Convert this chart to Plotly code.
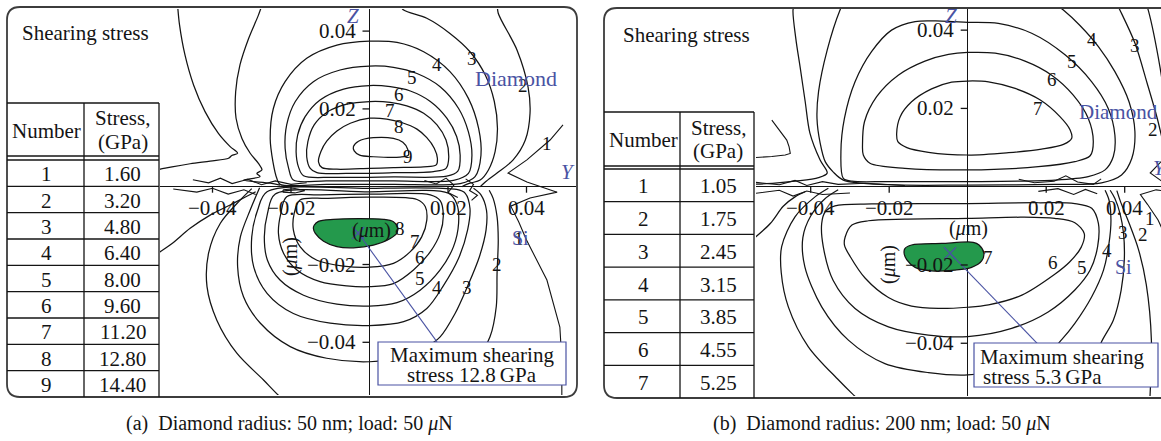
import plotly.graph_objects as go

W, H = 1161, 441
SERIF = "Liberation Serif"
INK = "#141414"
FRAME = "#3c3c3c"
BLUE = "#4a53a3"
GREEN = "#24994c"

# ---------------- values ----------------
A_LEVEL_NO = [1, 2, 3, 4, 5, 6, 7, 8, 9]
A_LEVEL_GPA = [1.60, 3.20, 4.80, 6.40, 8.00, 9.60, 11.20, 12.80, 14.40]
B_LEVEL_NO = [1, 2, 3, 4, 5, 6, 7]
B_LEVEL_GPA = [1.05, 1.75, 2.45, 3.15, 3.85, 4.55, 5.25]
A_MAX_GPA = 12.8
B_MAX_GPA = 5.3
AXIS_TICKS = [-0.04, -0.02, 0.02, 0.04]  # um

# Iso-stress lines, points (y, z) in nm.  Panel (a): radius 50 nm.
a_up_9 = [(-4.1, 10.3), (-2.8, 11.7), (1.0, 12.6), (6.1, 12.4), (8.5, 11.4), (9.7, 9.7), (9.9, 8.1),
          (7.8, 7.6), (1.0, 7.7), (-2.5, 8.1), (-3.9, 9.2)]
a_up_8 = [(0.0, 17.6), (4.4, 17.4), (8.2, 16.5), (12.1, 14.8), (14.6, 12.6), (16.5, 9.9), (17.3, 7.3),
          (17.0, 5.6), (13.8, 5.1), (6.1, 4.9), (0.0, 4.7), (-8.3, 4.5), (-12.1, 4.9), (-13.0, 6.4),
          (-12.4, 9.0), (-10.9, 11.7), (-8.3, 14.3), (-4.9, 16.3)]
a_up_7 = [(0.0, 21.9), (-5.8, 21.2), (-10.9, 19.1), (-14.1, 15.9), (-15.7, 11.6), (-16.0, 7.7), (-15.1, 4.7),
          (-13.4, 3.6), (-5.8, 3.4), (6.1, 3.6), (16.3, 3.9), (19.5, 4.7), (20.2, 7.7), (19.5, 12.0),
          (17.2, 15.9), (13.8, 18.9), (9.5, 20.8), (5.3, 21.7)]
a_up_6 = [(0.0, 26.0), (-6.6, 25.1), (-12.6, 22.3), (-16.4, 18.0), (-18.3, 13.3), (-18.7, 9.0), (-18.1, 5.1),
          (-16.8, 2.8), (-9.2, 2.4), (6.1, 2.5), (19.7, 2.7), (22.5, 4.0), (23.1, 8.1), (22.2, 12.9),
          (19.7, 17.6), (15.5, 21.9), (10.4, 24.6), (5.3, 25.7)]
a_up_5 = [(0.0, 31.0), (-7.5, 30.0), (-14.3, 27.0), (-18.9, 21.9), (-21.1, 15.9), (-21.5, 9.9), (-20.6, 4.7),
          (-19.4, 1.7), (-10.9, 1.5), (6.1, 1.5), (21.4, 1.6), (25.2, 3.4), (26.1, 8.1), (25.2, 14.1),
          (22.7, 20.1), (18.0, 25.7), (12.1, 29.1), (6.1, 30.7)]
a_up_4 = [(0.0, 37.4), (-8.3, 36.4), (-16.0, 33.0), (-21.5, 27.0), (-24.5, 20.1), (-25.3, 12.4), (-24.6, 6.4),
          (-23.6, 2.1), (-22.8, 0.6), (-10.9, 0.6), (6.1, 0.6), (23.1, 0.8), (26.9, 2.6), (28.4, 8.1),
          (27.8, 15.0), (25.2, 22.7), (20.5, 29.6), (13.8, 34.7), (7.0, 37.1)]
a_up_3r = [(7.8, 46.7), (8.7, 45.4), (14.6, 43.3), (20.5, 39.4), (25.6, 34.7), (29.5, 28.7), (31.8, 21.9),
           (32.6, 15.0), (32.0, 9.0), (30.3, 4.3), (28.2, 1.7), (25.6, 0.9), (23.5, 0.0)]
a_up_3l = [(-27.4, 46.7), (-28.3, 44.1), (-30.8, 38.1), (-33.0, 31.3), (-34.1, 24.4), (-34.0, 17.6),
           (-32.5, 12.4), (-30.4, 8.6), (-28.3, 6.0), (-27.4, 4.3), (-28.7, 3.4), (-27.9, 2.6),
           (-32.1, 1.7), (-25.3, 0.9), (-22.8, 0.4)]
a_up_2l = [(-48.9, 46.7), (-48.4, 41.6), (-47.0, 33.8), (-44.8, 26.1), (-41.9, 19.3), (-38.5, 13.7),
           (-35.5, 10.3), (-33.6, 8.6), (-35.1, 8.0), (-35.9, 7.3), (-40.6, 6.6), (-45.7, 5.9),
           (-50.3, 5.1), (-53.3, 4.5), (-56.0, 4.0)]
a_up_2r = [(32.6, 46.7), (32.8, 44.6), (37.6, 35.1), (40.4, 25.6), (40.9, 18.9), (39.7, 12.0), (36.6, 6.9),
           (32.5, 3.5), (29.5, 1.2), (28.2, 0.0)]
a_1r = [(49.3, 15.9), (46.0, 12.0), (40.1, 6.9), (35.3, 3.5), (40.1, 1.2), (47.8, -1.4), (40.9, -2.9),
        (36.0, -5.0), (38.0, -9.0), (40.0, -13.7), (45.2, -24.0), (48.5, -36.1), (49.0, -44.6), (49.0, -54.8)]
a_lo_8 = [(-14.1, -9.9), (-13.0, -8.9), (-9.2, -8.4), (-2.4, -8.2), (3.6, -8.4), (6.1, -9.0), (7.1, -10.3),
          (7.0, -11.9), (5.3, -13.3), (1.0, -15.0), (-4.1, -15.7), (-8.3, -15.4), (-11.7, -14.0),
          (-13.8, -12.0), (-14.3, -10.7)]
a_lo_7 = [(0.0, -2.7), (-10.9, -3.0), (-17.7, -3.4), (-19.2, -6.9), (-19.4, -11.1), (-17.7, -15.4),
          (-13.4, -18.9), (-6.6, -20.4), (0.0, -20.7), (6.1, -19.7), (10.4, -16.7), (13.3, -12.9),
          (14.6, -8.6), (14.2, -5.1), (12.1, -3.3)]
a_lo_6 = [(0.0, -1.9), (-12.6, -2.1), (-21.1, -2.6), (-22.6, -6.9), (-23.2, -12.0), (-21.9, -17.1),
          (-18.5, -21.4), (-12.6, -24.4), (-5.8, -25.5), (0.0, -25.7), (6.1, -24.9), (11.2, -21.4),
          (15.5, -16.7), (18.0, -12.0), (18.8, -7.3), (18.0, -3.6), (15.5, -2.1)]
a_lo_5 = [(0.0, -1.3), (-24.0, -1.9), (-26.0, -6.9), (-26.8, -12.9), (-26.0, -18.9), (-22.8, -24.0),
          (-16.8, -27.9), (-8.3, -30.2), (0.0, -30.7), (7.0, -29.8), (12.9, -26.6), (18.0, -21.4),
          (21.4, -15.4), (22.7, -9.4), (22.2, -4.3), (20.1, -1.7)]
a_lo_4 = [(0.0, -0.4), (-26.1, -1.3), (-28.5, -6.0), (-30.0, -12.9), (-29.5, -20.6), (-26.1, -27.4),
          (-19.4, -32.6), (-10.0, -35.1), (0.0, -35.7), (8.7, -34.7), (14.6, -31.3), (18.8, -25.5),
          (22.7, -18.4), (25.0, -11.1), (25.6, -5.6), (24.4, -1.7), (22.2, -0.7)]
a_lo_3 = [(-28.0, -0.3), (-30.4, -6.0), (-32.9, -12.9), (-33.6, -20.6), (-32.1, -28.3), (-27.8, -35.1),
          (-20.2, -41.1), (-10.9, -44.1), (0.0, -45.0), (8.7, -43.7), (14.6, -41.1), (18.0, -38.6),
          (21.8, -32.6), (24.9, -25.8), (28.0, -18.0), (29.7, -11.1), (29.8, -6.0), (28.4, -2.1), (26.5, -0.4)]
a_lo_2l = [(-30.0, -0.5), (-32.9, -3.4), (-38.0, -9.4), (-41.0, -17.1), (-41.4, -25.7), (-38.9, -34.3),
           (-33.8, -42.8), (-27.0, -49.7), (-22.8, -54.0), (-19.0, -57.0)]
a_lo_2r = [(23.1, -46.3), (28.2, -42.8), (30.7, -38.6), (32.3, -30.8), (32.5, -22.3), (32.8, -13.7),
           (32.5, -7.7), (31.5, -3.0), (30.5, -0.9)]
a_lo_1l = [(-56.0, -18.5), (-53.3, -16.7), (-50.3, -14.6), (-45.7, -10.7), (-40.6, -7.3), (-35.5, -4.7),
           (-31.5, -2.6), (-29.0, -1.3)]
a_jag_1 = [(-45.0, 1.8), (-41.0, 1.0), (-38.0, 2.2), (-35.0, 0.8), (-31.0, 1.9), (-27.5, 0.5), (-24.0, 1.5),
           (-20.0, 0.6), (-16.0, 1.0)]
a_jag_2 = [(-50.0, -0.6), (-44.0, -1.4), (-40.0, -0.4), (-36.0, -1.9), (-32.0, -0.8), (-29.0, -2.0)]
a_jag_3 = [(-22.0, -0.8), (-19.0, -0.5), (-16.5, -1.0), (-19.0, -1.6), (-22.0, -1.4), (-22.0, -0.8)]
a_jag_4 = [(14.0, 1.6), (17.0, 0.7), (19.5, 2.2), (21.5, 0.4), (20.0, -1.5), (22.5, -2.8)]
a_jag_5 = [(24.5, 2.0), (26.5, 0.6), (25.5, -1.0), (27.5, -2.2), (26.0, -3.5)]

# Panel (b): radius 200 nm.
b_up_7 = [(0.0, 27.0), (5.3, 26.8), (12.1, 25.1), (18.4, 22.2), (23.5, 17.9), (26.1, 14.5), (26.5, 12.4),
          (24.4, 10.8), (18.8, 9.6), (10.4, 8.7), (0.0, 8.1), (-10.0, 8.8), (-15.5, 10.0), (-17.8, 11.5),
          (-18.1, 13.6), (-17.2, 17.9), (-14.3, 21.7), (-9.2, 25.0), (-4.1, 26.7)]
b_up_6 = [(0.0, 34.3), (7.0, 34.1), (14.6, 32.1), (21.4, 28.5), (26.9, 23.4), (30.7, 17.5), (32.0, 11.5),
          (31.2, 7.9), (27.3, 6.4), (18.0, 5.1), (0.0, 4.3), (-16.0, 4.7), (-24.9, 6.0), (-26.6, 8.1),
          (-26.8, 10.7), (-26.3, 16.6), (-23.2, 23.0), (-17.7, 28.5), (-10.9, 32.1), (-4.9, 33.8)]
b_up_5 = [(0.0, 42.0), (7.8, 41.7), (16.3, 39.2), (24.8, 33.7), (31.6, 26.8), (35.8, 20.0), (37.5, 13.2),
          (37.1, 7.7), (35.0, 4.3), (30.7, 2.6), (22.2, 1.7), (0.0, 1.3), (-20.2, 1.3), (-29.5, 1.4),
          (-31.7, 2.1), (-32.3, 8.9), (-31.4, 17.5), (-28.7, 26.8), (-24.5, 34.5), (-19.4, 40.0),
          (-13.4, 42.2), (-6.6, 42.3)]
b_up_4 = [(-31.9, 46.4), (-32.5, 45.2), (-35.8, 34.9), (-38.0, 24.3), (-38.4, 17.5), (-37.6, 11.2),
          (-36.3, 6.4), (-34.3, 3.8), (-31.7, 1.7), (-20.2, 0.5), (0.0, 0.4), (22.2, 0.6), (34.1, 1.0),
          (39.2, 3.0), (41.8, 7.2), (42.6, 14.1), (41.1, 21.7), (37.5, 29.4), (33.3, 35.8), (28.6, 41.2),
          (24.3, 45.2), (22.7, 46.4)]
b_up_3l = [(-44.1, 46.4), (-44.5, 45.2), (-43.8, 37.9), (-42.7, 30.6), (-41.4, 21.7), (-40.2, 13.7),
           (-37.6, 6.8), (-35.8, 3.5), (-38.0, 2.3), (-44.0, 1.4), (-49.1, 0.9), (-55.0, 0.6)]
b_up_3r = [(37.5, 47.7), (38.8, 45.1), (42.6, 36.7), (45.7, 26.5), (48.2, 17.8), (50.2, 9.4)]
b_up_2r = [(45.0, 48.0), (46.0, 45.1), (49.0, 30.5), (50.2, 22.1)]
b_up_1r = [(50.3, 7.5), (46.5, 3.5), (50.3, 0.8)]
b_jag_1 = [(-49.9, 17.0), (-47.8, 14.1), (-46.1, 11.9), (-45.5, 10.2), (-45.2, 8.5), (-46.5, 8.1),
           (-49.9, 7.7), (-55.0, 7.4)]
b_lo_7 = [(-16.0, -15.8), (-14.3, -14.9), (-6.6, -14.5), (1.4, -14.2), (2.9, -14.9), (4.1, -16.9),
          (3.6, -18.9), (1.0, -20.6), (-3.2, -21.3), (-9.2, -21.5), (-13.4, -20.6), (-15.5, -18.7),
          (-16.2, -17.0)]
b_lo_6 = [(0.0, -8.1), (13.8, -7.8), (22.2, -8.1), (27.3, -9.2), (29.7, -12.0), (28.9, -15.5),
          (25.9, -19.3), (22.0, -22.5), (13.8, -27.7), (5.3, -30.2), (0.0, -30.8), (-7.5, -31.1),
          (-14.3, -30.5), (-20.2, -28.3), (-26.1, -23.4), (-29.9, -17.9), (-31.4, -14.9), (-31.2, -12.8),
          (-29.5, -9.8), (-25.3, -8.7), (-16.0, -8.3)]
b_lo_5 = [(0.0, -4.3), (18.0, -4.1), (27.3, -4.3), (31.6, -5.5), (33.3, -9.4), (33.1, -15.3), (31.2, -21.3),
          (27.3, -26.4), (20.5, -32.0), (11.2, -36.2), (0.0, -38.3), (-10.0, -37.9), (-20.2, -35.8),
          (-28.7, -31.1), (-34.3, -23.9), (-36.8, -15.3), (-37.2, -9.4), (-36.3, -6.4), (-33.8, -4.9),
          (-24.5, -4.4)]
b_lo_4 = [(-33.0, -0.8), (-36.5, -3.2), (-40.0, -7.5), (-42.0, -13.0), (-41.5, -20.4), (-37.2, -30.7),
          (-30.4, -39.2), (-21.1, -45.2), (-10.0, -47.5), (0.0, -48.1), (12.1, -46.0), (20.5, -42.6),
          (24.0, -39.0), (27.3, -34.9), (31.6, -28.1), (34.6, -21.3), (36.0, -14.5), (36.5, -8.5),
          (36.0, -3.4), (35.0, -0.9)]
b_lo_3l = [(-35.5, -0.4), (-38.9, -2.6), (-44.0, -7.7), (-47.4, -15.3), (-47.5, -22.0), (-45.7, -30.7),
           (-40.6, -40.9), (-32.9, -49.4), (-29.5, -52.8), (-25.0, -57.0)]
b_lo_3r = [(31.6, -46.0), (34.1, -39.6), (37.1, -34.1), (39.1, -26.4), (39.9, -18.7), (39.7, -11.9),
           (38.8, -6.8), (37.5, -3.0), (36.3, -0.9)]
b_lo_2l = [(-56.0, -14.5), (-50.3, -9.4), (-47.0, -5.0), (-44.0, -2.6), (-41.4, -1.3)]
b_lo_2r = [(46.4, -54.5), (46.8, -39.2), (45.5, -25.0), (43.5, -16.0), (41.0, -9.0), (39.0, -4.0), (38.0, -1.0)]
b_lo_1r = [(51.0, -14.0), (48.5, -8.5), (45.8, -4.5), (44.0, -2.0), (48.0, -0.8), (51.0, -1.2)]
b_jag_2 = [(-55.0, 1.2), (-48.0, 0.5), (-44.0, 1.6), (-41.0, 0.3), (-37.0, 1.3), (-33.0, 0.6), (-26.0, 0.9),
           (-16.0, 0.3)]
b_jag_3 = [(-55.0, -1.8), (-48.0, -0.9), (-44.5, -2.4), (-41.0, -1.1), (-37.0, -2.0), (-30.0, -1.6)]
b_jag_4 = [(13.0, 1.9), (17.0, 1.0), (22.0, 1.4), (25.0, 2.8), (28.0, 1.2), (32.0, 0.6), (34.0, 2.0)]
b_jag_5 = [(18.0, -1.2), (23.0, -0.5), (27.0, -2.0), (30.0, -0.7), (33.0, -1.8)]

# Level numbers written on the lines: (text, y nm, z nm)
a_labels = [("9", 9.9, 7.7), ("8", 7.4, 15.4), ("7", 5.3, 19.5), ("6", 7.4, 23.6), ("5", 10.8, 28.0),
            ("4", 17.1, 31.3), ("3", 26.1, 33.0), ("2", 39.2, 26.1), ("1", 45.2, 11.1),
            ("8", 7.8, -10.7), ("7", 11.6, -14.1), ("6", 12.9, -18.3), ("5", 12.9, -23.5),
            ("4", 17.2, -25.8), ("3", 24.9, -25.8), ("2", 32.5, -20.1), ("1", 38.0, -13.3)]
b_labels = [("7", 18.0, 20.0), ("6", 21.6, 27.3), ("5", 26.5, 31.9), ("4", 31.7, 37.5), ("3", 42.6, 36.2),
            ("2", 47.2, 14.5), ("7", 5.2, -18.0), ("6", 21.7, -19.3), ("5", 29.1, -20.6),
            ("4", 35.5, -16.2), ("3", 39.6, -11.8), ("2", 44.7, -12.3), ("1", 46.5, -8.0)]

# Maximum-stress marker and the point where its leader meets the callout (nm)
a_max_mark = (-2.9, -11.9)
a_leader_end = (17.2, -39.9)
b_max_mark = (-4.5, -17.0)
b_leader_end = (17.7, -40.0)

# ---------------- page geometry (pixels) ----------------
PANELS = {
    "a": dict(frame=(7, 7, 577, 397), plot=(160, 9, 576, 395), origin=(369.5, 186.7), scale=(3925, 3890),
              table=(7, 84, 159, 103, 156, 160, 397), title_x=85, title_y=33,
              box=(378, 342, 566, 385), caption_x=289,
              caption="(a)  Diamond radius: 50 nm; load: 50 <i>μ</i>N"),
    "b": dict(frame=(604, 8, 1180, 398), plot=(756, 9, 1161, 396), origin=(967.7, 186.7), scale=(3925, 3914),
              table=(604, 680, 754, 112, 166, 169, 398), title_x=686, title_y=35,
              box=(974, 343, 1158, 387), caption_x=882,
              caption="(b)  Diamond radius: 200 nm; load: 50 <i>μ</i>N"),
}


def px(x):
    return x / W


def py(y):
    return 1 - y / H


def rounded_rect(x0, y0, x1, y1, r):
    pts = [("M", (x0 + r, y0)), ("L", (x1 - r, y0)), ("Q", (x1, y0), (x1, y0 + r)), ("L", (x1, y1 - r)),
           ("Q", (x1, y1), (x1 - r, y1)), ("L", (x0 + r, y1)), ("Q", (x0, y1), (x0, y1 - r)),
           ("L", (x0, y0 + r)), ("Q", (x0, y0), (x0 + r, y0))]
    out = []
    for cmd, *coords in pts:
        out.append(cmd + " " + " ".join(f"{px(a):.5f},{py(b):.5f}" for a, b in coords))
    return " ".join(out) + " Z"


fig = go.Figure()
shapes, annos = [], []


def text(x, y, s, size=19, color=INK, xanchor="center", angle=0, ref=("paper", "paper")):
    annos.append(dict(x=x, y=y, xref=ref[0], yref=ref[1], text=s, showarrow=False, xanchor=xanchor,
                      yanchor="middle", textangle=angle, font=dict(family=SERIF, size=size, color=color)))


def draw(pts, xa, ya, closed=False, smooth=True, fill=None, width=1.25):
    seq = list(pts) + ([pts[0]] if closed else [])
    fig.add_trace(go.Scatter(
        x=[p[0] / 1000 for p in seq], y=[p[1] / 1000 for p in seq], mode="lines",
        line=dict(color=INK, width=width, shape="spline" if smooth else "linear", smoothing=0.9),
        fill="toself" if fill else None, fillcolor=fill, xaxis=xa, yaxis=ya,
        hoverinfo="skip", showlegend=False))


panel_lines = {
    "a": dict(loops=[a_up_9, a_up_8, a_up_7, a_up_6, a_up_5, a_up_4, a_lo_7, a_lo_6, a_lo_5, a_lo_4],
              opens=[a_up_3r, a_up_3l, a_up_2l, a_up_2r, a_lo_3, a_lo_2l, a_lo_2r, a_lo_1l],
              jags=[a_1r, a_jag_1, a_jag_2, a_jag_3, a_jag_4, a_jag_5],
              peak=a_lo_8, labels=a_labels, mark=a_max_mark, lead=a_leader_end, peak_gpa=A_MAX_GPA),
    "b": dict(loops=[b_up_7, b_up_6, b_up_5, b_lo_6, b_lo_5],
              opens=[b_up_4, b_up_3l, b_up_3r, b_up_2r, b_lo_4, b_lo_3l, b_lo_3r, b_lo_2l, b_lo_2r],
              jags=[b_up_1r, b_jag_1, b_lo_1r, b_jag_2, b_jag_3, b_jag_4, b_jag_5],
              peak=b_lo_7, labels=b_labels, mark=b_max_mark, lead=b_leader_end, peak_gpa=B_MAX_GPA),
}
tables = {"a": (A_LEVEL_NO, A_LEVEL_GPA), "b": (B_LEVEL_NO, B_LEVEL_GPA)}

layout_axes = {}
for i, key in enumerate(["a", "b"]):
    P = PANELS[key]
    L = panel_lines[key]
    sfx = "" if i == 0 else str(i + 1)
    xa, ya = "x" + sfx, "y" + sfx
    x0, y0, x1, y1 = P["plot"]
    ox, oy = P["origin"]
    sx, sz = P["scale"]
    common = dict(showgrid=False, showticklabels=False, ticks="", showline=False, zeroline=True,
                  zerolinecolor=INK, zerolinewidth=1.4, fixedrange=True)
    layout_axes["xaxis" + sfx] = dict(domain=[px(x0), px(x1)], range=[(x0 - ox) / sx, (x1 - ox) / sx],
                                      anchor=ya, **common)
    layout_axes["yaxis" + sfx] = dict(domain=[py(y1), py(y0)], range=[(oy - y1) / sz, (oy - y0) / sz],
                                      anchor=xa, **common)

    for pts in L["loops"]:
        draw(pts, xa, ya, closed=True)
    for pts in L["opens"]:
        draw(pts, xa, ya)
    for pts in L["jags"]:
        draw(pts, xa, ya, smooth=False, width=1.1)
    draw(L["peak"], xa, ya, closed=True, fill=GREEN)

    # leader from the peak marker to the callout
    mk, ld = L["mark"], L["lead"]
    fig.add_trace(go.Scatter(x=[mk[0] / 1000, ld[0] / 1000], y=[mk[1] / 1000, ld[1] / 1000], mode="lines",
                             line=dict(color=BLUE, width=1.1), xaxis=xa, yaxis=ya,
                             hoverinfo="skip", showlegend=False))
    fig.add_trace(go.Scatter(x=[mk[0] / 1000], y=[mk[1] / 1000], mode="markers",
                             marker=dict(symbol="x-thin", size=12, line=dict(color=BLUE, width=1.2)),
                             xaxis=xa, yaxis=ya, hoverinfo="skip", showlegend=False))

    for s, yy, zz in L["labels"]:
        text(yy / 1000, zz / 1000, s, size=19, ref=(xa, ya))

    # axis ticks and tick labels
    for t in AXIS_TICKS:
        shapes.append(dict(type="line", xref=xa, yref=ya, xsizemode="pixel", xanchor=0, x0=-7, x1=0,
                           y0=t, y1=t, line=dict(color=INK, width=1.3)))
        shapes.append(dict(type="line", xref=xa, yref=ya, ysizemode="pixel", yanchor=0, y0=0, y1=-6,
                           x0=t, x1=t, line=dict(color=INK, width=1.3)))
        lab = f"{t:.2f}".replace("-", "−")
        annos.append(dict(x=0, y=t, xref=xa, yref=ya, text=lab, showarrow=False, xanchor="right",
                          yanchor="middle", xshift=-12, font=dict(family=SERIF, size=21, color=INK)))
        annos.append(dict(x=t, y=0, xref=xa, yref=ya, text=lab, showarrow=False, xanchor="center",
                          yanchor="top", yshift=-7, font=dict(family=SERIF, size=21, color=INK)))

    # blue region and axis names
    def at(pxx, pyy):
        return (pxx - ox) / sx, (oy - pyy) / sz
    zx, zy = at(P["origin"][0] - 17, 16)
    text(zx, zy, "<i>Z</i>", size=21, color=BLUE, ref=(xa, ya))
    if key == "a":
        text(*at(516, 78), "Diamond", size=22, color=BLUE, ref=(xa, ya))
        text(*at(568, 172), "<i>Y</i>", size=21, color=BLUE, ref=(xa, ya))
        text(*at(520, 238), "Si", size=20, color=BLUE, ref=(xa, ya))
        text(*at(371, 230), "(<i>μ</i>m)", size=20, ref=(xa, ya))
        text(*at(290, 257), "(<i>μ</i>m)", size=20, angle=-90, ref=(xa, ya))
    else:
        text(*at(1077, 112), "Diamond", size=21, color=BLUE, xanchor="left", ref=(xa, ya))
        text(*at(1160, 168), "<i>Y</i>", size=21, color=BLUE, ref=(xa, ya))
        text(*at(1123, 267), "Si", size=20, color=BLUE, ref=(xa, ya))
        text(*at(968, 228), "(<i>μ</i>m)", size=20, ref=(xa, ya))
        text(*at(888, 265), "(<i>μ</i>m)", size=20, angle=-90, ref=(xa, ya))

    # callout box
    bx0, by0, bx1, by1 = P["box"]
    shapes.append(dict(type="rect", xref="paper", yref="paper", x0=px(bx0), x1=px(bx1), y0=py(by1), y1=py(by0),
                       line=dict(color=BLUE, width=1.2), fillcolor="white", layer="above"))
    peak_txt = f"{L['peak_gpa']:g}\u2009GPa"
    if key == "a":
        text(px((bx0 + bx1) / 2), py(by0 + 13), "Maximum shearing", size=21)
        text(px((bx0 + bx1) / 2), py(by0 + 33), "stress " + peak_txt, size=21)
    else:
        text(px(bx0 + 4), py(by0 + 14), "Maximum shearing", size=21, xanchor="left")
        text(px(bx0 + 7), py(by0 + 34), "stress " + peak_txt, size=21, xanchor="left")

    # frame
    fx0, fy0, fx1, fy1 = P["frame"]
    shapes.append(dict(type="path", xref="paper", yref="paper", path=rounded_rect(fx0, fy0, fx1, fy1, 13),
                       line=dict(color=FRAME, width=1.8), layer="above"))

    # level table
    tl, tm, tr, tt, hd1, hd2, tb = P["table"]
    nums, vals = tables[key]
    row_h = (tb - hd2) / len(nums)

    def hline(y, xa0=tl, xa1=tr, w=1.3):
        shapes.append(dict(type="line", xref="paper", yref="paper", x0=px(xa0), x1=px(xa1), y0=py(y), y1=py(y),
                           line=dict(color=INK, width=w), layer="above"))

    def vline(x, ya0, ya1, w=1.3):
        shapes.append(dict(type="line", xref="paper", yref="paper", x0=px(x), x1=px(x), y0=py(ya0), y1=py(ya1),
                           line=dict(color=INK, width=w), layer="above"))

    hline(tt)
    hline(hd1)
    hline(hd2)
    for k in range(1, len(nums)):
        hline(hd2 + k * row_h)
    vline(tm, tt, tb)
    vline(tr, tt, tb)
    c1, c2 = (tl + tm) / 2 + 1, (tm + tr) / 2 + 1
    text(px(c1), py((tt + hd1) / 2 + 1), "Number", size=21)
    text(px(c2), py((tt + hd1) / 2 - 11), "Stress,", size=21)
    text(px(c2), py((tt + hd1) / 2 + 12), "(GPa)", size=21)
    for k, (n, v) in enumerate(zip(nums, vals)):
        yc = hd2 + (k + 0.5) * row_h + 1
        text(px(c1), py(yc), str(n), size=21)
        text(px(c2), py(yc), f"{v:.2f}", size=21)
    text(px(P["title_x"]), py(P["title_y"]), "Shearing stress", size=21)
    text(px(P["caption_x"]), py(423), P["caption"], size=20)

fig.update_layout(width=W, height=H, margin=dict(l=0, r=0, t=0, b=0), paper_bgcolor="white",
                  plot_bgcolor="rgba(0,0,0,0)", showlegend=False, hovermode=False,
                  shapes=shapes, annotations=annos, **layout_axes)
fig.write_html("out.html")
